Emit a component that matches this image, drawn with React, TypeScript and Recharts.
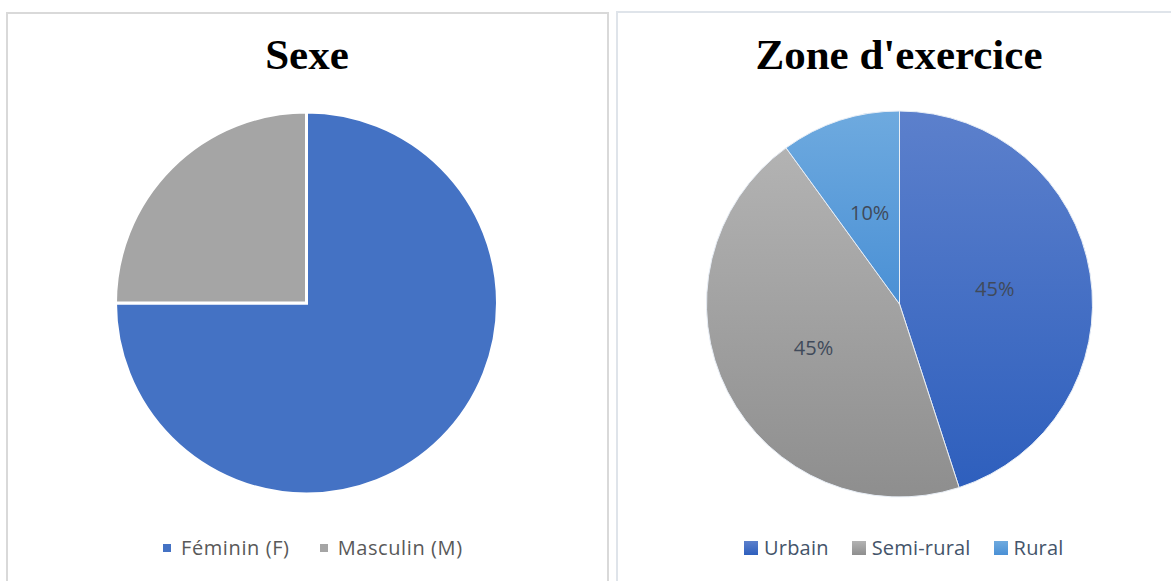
import { PieChart, Pie, Cell } from "recharts";

const sexeLabels = ["Féminin (F)", "Masculin (M)"];
const sexeValues = [75, 25];
const sexeColors = ["#4472c4", "#a5a5a5"];

const zoneLabels = ["Urbain", "Semi-rural", "Rural"];
const zoneValues = [45, 45, 10];
// top / bottom colour of each slice's gradient
const zoneColors = [
  ["#5c80cc", "#2e5fbd"],
  ["#b3b3b3", "#8e8e8e"],
  ["#6eaadf", "#4a90d5"],
];

const sexeData = sexeLabels.map((name, i) => ({ name, value: sexeValues[i] }));
const zoneData = zoneLabels.map((name, i) => ({ name, value: zoneValues[i] }));

const RAD = Math.PI / 180;
const labelFont = "'Open Sans', 'Noto Sans', sans-serif";
const noMargin = { top: 0, right: 0, bottom: 0, left: 0 };

const renderZoneLabel = (props: any) => {
  const { cx, cy, midAngle, outerRadius, percent } = props;
  const r = outerRadius * 0.5;
  const x = cx + r * Math.cos(-midAngle * RAD);
  const y = cy + r * Math.sin(-midAngle * RAD);
  return (
    <text
      x={x}
      y={y}
      fill="#404a5a"
      fontSize={20}
      fontFamily={labelFont}
      textAnchor="middle"
      dominantBaseline="central"
    >
      {`${Math.round(percent * 100)}%`}
    </text>
  );
};

const Title = ({ text, center }: { text: string; center: number }) => (
  <div
    style={{
      position: "absolute",
      left: center - 250,
      width: 500,
      top: 30,
      textAlign: "center",
      fontFamily: "'Liberation Serif', 'Times New Roman', serif",
      fontWeight: "bold",
      fontSize: 43,
      color: "#000",
      lineHeight: "50px",
    }}
  >
    {text}
  </div>
);

const LegendRow = ({
  items,
  colors,
  textColor,
  box,
  boxGap,
  gap,
  left,
  spacing,
}: {
  items: string[];
  colors: string[];
  textColor: string;
  box: number;
  boxGap: number;
  gap: number;
  left: number;
  spacing: number;
}) => (
  <div
    style={{
      position: "absolute",
      left,
      top: 534,
      height: 28,
      display: "flex",
      alignItems: "center",
      fontFamily: labelFont,
      fontSize: 20,
      letterSpacing: spacing,
      lineHeight: "28px",
      color: textColor,
      whiteSpace: "nowrap",
    }}
  >
    {items.map((it, i) => (
      <div
        key={it}
        style={{ display: "flex", alignItems: "center", marginRight: gap }}
      >
        <div
          style={{
            width: box,
            height: box,
            background: colors[i],
            marginRight: boxGap,
          }}
        />
        <span>{it}</span>
      </div>
    ))}
  </div>
);

export default function App() {
  return (
    <div
      style={{
        position: "absolute",
        left: 0,
        top: 0,
        width: 1171,
        height: 581,
        overflow: "hidden",
        background: "#fff",
      }}
    >
      <div
        style={{
          position: "absolute",
          left: 6,
          top: 12,
          width: 599,
          height: 600,
          border: "2px solid #d9d9d9",
        }}
      />
      <div
        style={{
          position: "absolute",
          left: 616,
          top: 11,
          width: 600,
          height: 600,
          border: "2px solid #dfe4ea",
        }}
      />

      <Title text="Sexe" center={307} />
      <Title text="Zone d'exercice" center={899} />

      <div style={{ position: "absolute", left: 0, top: 0 }}>
        <PieChart width={600} height={581} margin={noMargin}>
          <Pie
            data={sexeData}
            dataKey="value"
            nameKey="name"
            cx={306.5}
            cy={303}
            outerRadius={191}
            startAngle={90}
            endAngle={-270}
            stroke="#ffffff"
            strokeWidth={3}
            isAnimationActive={false}
          >
            {sexeData.map((d, i) => (
              <Cell key={d.name} fill={sexeColors[i]} />
            ))}
          </Pie>
        </PieChart>
      </div>

      <div style={{ position: "absolute", left: 600, top: 0 }}>
        <PieChart width={571} height={581} margin={noMargin}>
          <defs>
            {zoneColors.map((c, i) => (
              <linearGradient
                key={i}
                id={`zoneGrad${i}`}
                x1="0"
                y1="0"
                x2="0"
                y2="1"
              >
                <stop offset="0%" stopColor={c[0]} />
                <stop offset="100%" stopColor={c[1]} />
              </linearGradient>
            ))}
          </defs>
          <Pie
            data={zoneData}
            dataKey="value"
            nameKey="name"
            cx={299.5}
            cy={304}
            outerRadius={193}
            startAngle={90}
            endAngle={-270}
            stroke="#e8eef6"
            strokeWidth={1}
            label={renderZoneLabel}
            labelLine={false}
            isAnimationActive={false}
          >
            {zoneData.map((d, i) => (
              <Cell key={d.name} fill={`url(#zoneGrad${i})`} />
            ))}
          </Pie>
        </PieChart>
      </div>

      <LegendRow
        items={sexeLabels}
        colors={sexeColors}
        textColor="#595959"
        box={8}
        boxGap={10}
        gap={30}
        left={163}
        spacing={0.6}
      />
      <LegendRow
        items={zoneLabels}
        colors={zoneColors.map((c) => `linear-gradient(${c[0]}, ${c[1]})`)}
        textColor="#44546a"
        box={14}
        boxGap={6}
        gap={23}
        left={744}
        spacing={0.2}
      />
    </div>
  );
}
